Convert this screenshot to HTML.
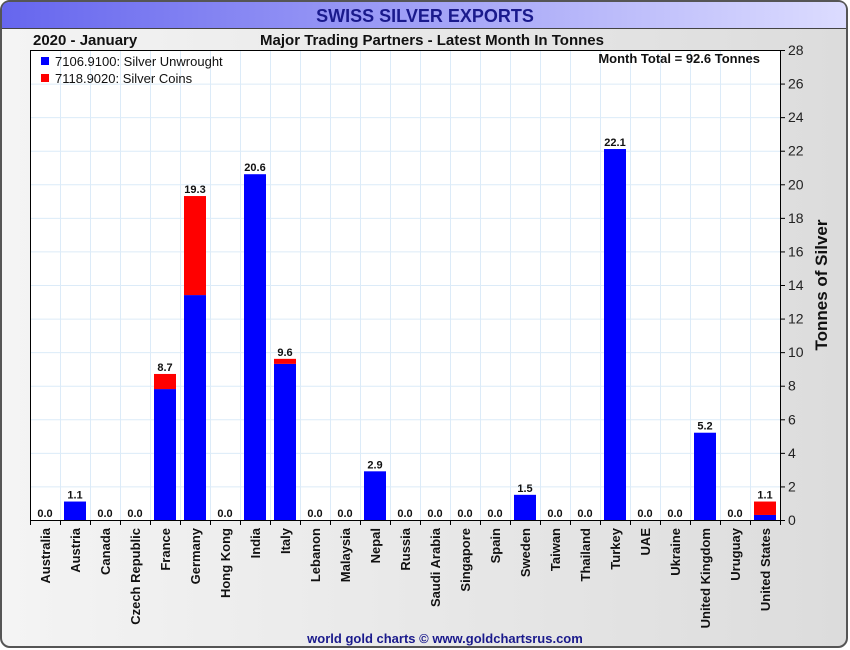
<!DOCTYPE html>
<html><head><meta charset="utf-8">
<style>
html,body{margin:0;padding:0;width:850px;height:650px;overflow:hidden;background:#fff;font-family:"Liberation Sans",Arial,sans-serif;}
</style></head>
<body>
<svg id="chart" width="850" height="650" xmlns="http://www.w3.org/2000/svg" font-family="Liberation Sans, Arial, sans-serif">
<defs>
<linearGradient id="tg" x1="0" x2="1" y1="0" y2="0"><stop offset="0" stop-color="#6666ee"/><stop offset="1" stop-color="#dcdcff"/></linearGradient>
<linearGradient id="bg" x1="0" x2="1" y1="0" y2="0"><stop offset="0" stop-color="#f4f4f4"/><stop offset="1" stop-color="#dcdcdc"/></linearGradient>
</defs>
<rect x="1" y="1" width="846" height="646" rx="9" fill="url(#bg)" stroke="#555" stroke-width="2"/>
<path d="M2 28 L2 10 Q2 2 10 2 L838 2 Q846 2 846 10 L846 28 Z" fill="url(#tg)"/>
<line x1="2" y1="28.5" x2="846" y2="28.5" stroke="#444" stroke-width="1"/>
<text x="425" y="22" text-anchor="middle" font-size="18" font-weight="bold" fill="#1a1a8c">SWISS SILVER EXPORTS</text>
<text x="33" y="45" font-size="15" font-weight="bold" fill="#111">2020 - January</text>
<text x="432" y="45" text-anchor="middle" font-size="15" font-weight="bold" fill="#111">Major Trading Partners - Latest Month In Tonnes</text>
<rect x="30" y="50" width="750" height="470" fill="#fff"/>
<g id="grid"></g>
<g id="bars"></g>
<g id="axes"></g>
<rect x="30.5" y="50.5" width="750" height="470" fill="none" stroke="#000" stroke-width="1"/>
<g>
<rect x="41" y="57" width="8" height="8" fill="#0000ff"/>
<text x="55" y="66" font-size="13" fill="#111">7106.9100: Silver Unwrought</text>
<rect x="41" y="74" width="8" height="8" fill="#ff0000"/>
<text x="55" y="83" font-size="13" fill="#111">7118.9020: Silver Coins</text>
</g>
<text x="760" y="63" text-anchor="end" font-size="13" font-weight="bold" fill="#111">Month Total = 92.6 Tonnes</text>
<text transform="translate(827,285) rotate(-90)" text-anchor="middle" font-size="17" font-weight="bold" fill="#111">Tonnes of Silver</text>
<text x="445" y="643" text-anchor="middle" font-size="13" font-weight="bold" fill="#1a1a8c">world gold charts © www.goldchartsrus.com</text>
</svg>
<script>
const categories = ["Australia","Austria","Canada","Czech Republic","France","Germany","Hong Kong","India","Italy","Lebanon","Malaysia","Nepal","Russia","Saudi Arabia","Singapore","Spain","Sweden","Taiwan","Thailand","Turkey","UAE","Ukraine","United Kingdom","Uruguay","United States"];
const unwrought = [0,1.1,0,0,7.8,13.4,0,20.6,9.3,0,0,2.9,0,0,0,0,1.5,0,0,22.1,0,0,5.2,0,0.3];
const coins = [0,0,0,0,0.9,5.9,0,0,0.3,0,0,0,0,0,0,0,0,0,0,0,0,0,0,0,0.8];
const totals = [0,1.1,0,0,8.7,19.3,0,20.6,9.6,0,0,2.9,0,0,0,0,1.5,0,0,22.1,0,0,5.2,0,1.1];
const yTicks = [0,2,4,6,8,10,12,14,16,18,20,22,24,26,28];

const NS="http://www.w3.org/2000/svg";
const L=30,R=780,T=50,B=520,YMAX=28;
const bw=(R-L)/categories.length;
const y=v=>B-(v/YMAX)*(B-T);
const xc=i=>L+bw*(i+0.5);
function mk(tag,attrs,parent){const e=document.createElementNS(NS,tag);for(const k in attrs)e.setAttribute(k,attrs[k]);parent.appendChild(e);return e;}
const grid=document.getElementById('grid'),bars=document.getElementById('bars'),axes=document.getElementById('axes');
yTicks.forEach(t=>{
  const gl=mk('line',{x1:L,x2:R,y1:y(t)+0.5,y2:y(t)+0.5,stroke:'#dcebf8','stroke-width':1},grid);
  
  
  const tk=mk('line',{x1:R,x2:R+5,y1:y(t)+0.5,y2:y(t)+0.5,stroke:'#000'},axes);
  
  
  const tl=mk('text',{x:R+8,y:y(t)+5,'font-size':14,fill:'#222'},axes);
  tl.textContent=t;
  
  
});
for(let i=0;i<=categories.length;i++){
  const xx=Math.round(L+bw*i)+0.5;
  const gl=mk('line',{x1:xx,x2:xx,y1:T,y2:B,stroke:'#dcebf8'},grid);
  
  
  const tk=mk('line',{x1:xx,x2:xx,y1:B,y2:B+5,stroke:'#000'},axes);
  
  
}
categories.forEach((c,i)=>{
  const bx=xc(i)-11;
  if(unwrought[i]>0){
    const r=mk('rect',{x:bx,y:y(unwrought[i]),width:22,height:B-y(unwrought[i]),fill:'#0000ff'},bars);
    
    
  }
  if(coins[i]>0){
    const r=mk('rect',{x:bx,y:y(unwrought[i]+coins[i]),width:22,height:y(unwrought[i])-y(unwrought[i]+coins[i]),fill:'#ff0000'},bars);
    
    
  }
  const vl=mk('text',{x:xc(i),y:y(totals[i])-3,'text-anchor':'middle','font-size':11,'font-weight':'bold',fill:'#111'},bars);
  vl.textContent=totals[i].toFixed(1);
  
  
  const cl=mk('text',{transform:`translate(${xc(i)+5},${B+8}) rotate(-90)`,'text-anchor':'end','font-size':13,'font-weight':'bold',fill:'#111'},axes);
  cl.textContent=c;
  
  
});
</script>
</body></html>
